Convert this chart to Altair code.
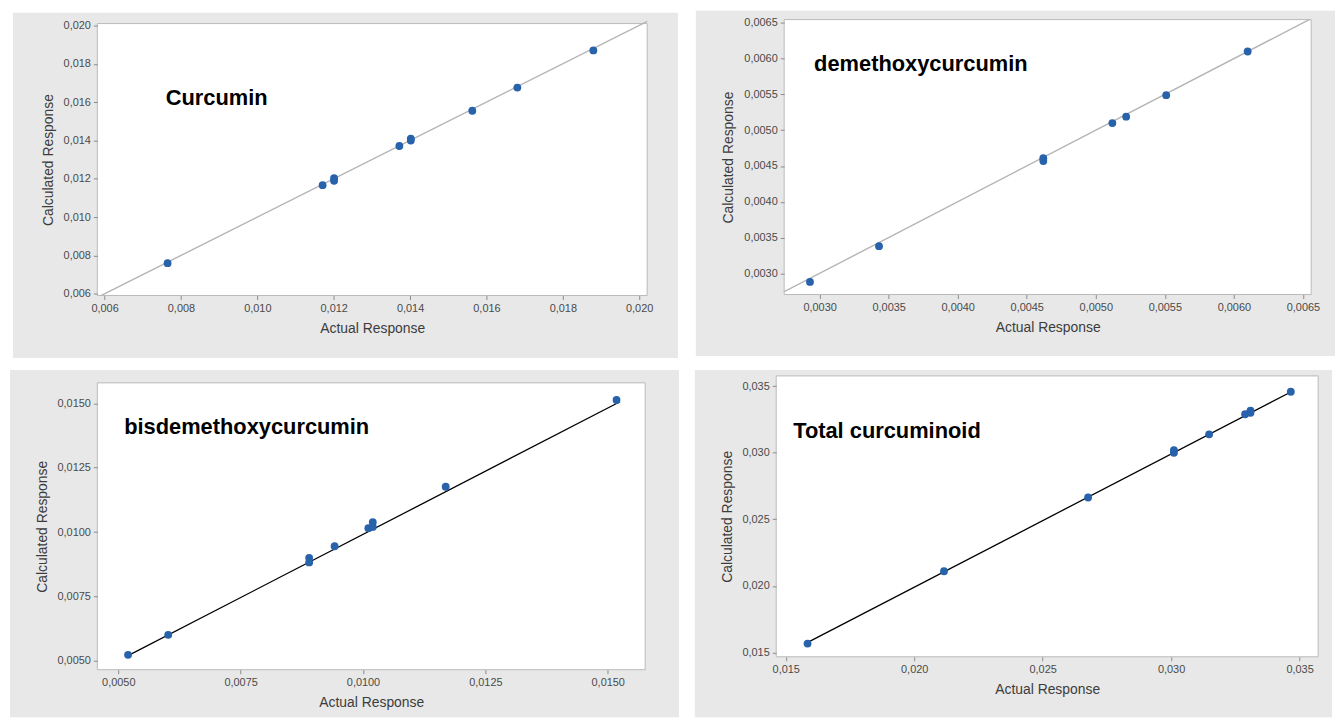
import altair as alt
import pandas as pd

# ---------------- data ----------------
cur_actual = [0.00765, 0.01171, 0.01201, 0.01201, 0.01372, 0.01402, 0.01402, 0.01563, 0.01681, 0.01880]
cur_calc   = [0.00760, 0.01167, 0.01203, 0.01190, 0.01371, 0.01410, 0.01400, 0.01555, 0.01676, 0.01870]
cur_fit_x  = [0.0058, 0.0203]
cur_fit_y  = [0.0058, 0.0203]

dmc_actual = [0.00293, 0.00343, 0.00462, 0.00462, 0.00512, 0.00522, 0.00551, 0.00610]
dmc_calc   = [0.00288, 0.00338, 0.00461, 0.00457, 0.00510, 0.00519, 0.00549, 0.00610]
dmc_fit_x  = [0.0027, 0.0066]
dmc_fit_y  = [0.0027, 0.0066]

bdmc_actual = [0.00520, 0.00602, 0.00890, 0.00890, 0.00942, 0.01011, 0.01020, 0.01020, 0.01169, 0.01518]
bdmc_calc   = [0.00523, 0.00601, 0.00900, 0.00882, 0.00945, 0.01015, 0.01038, 0.01020, 0.01176, 0.01513]
bdmc_fit_x  = [0.00520, 0.01525]
bdmc_fit_y  = [0.00520, 0.01506]

tot_actual = [0.01585, 0.02116, 0.02677, 0.03011, 0.03011, 0.03148, 0.03288, 0.03309, 0.03309, 0.03466]
tot_calc   = [0.01567, 0.02110, 0.02664, 0.02999, 0.03020, 0.03138, 0.03289, 0.03316, 0.03300, 0.03458]
tot_fit_x  = [0.0158, 0.0347]
tot_fit_y  = [0.0157, 0.0346]

labels = ["Curcumin", "demethoxycurcumin", "bisdemethoxycurcumin", "Total curcuminoid"]

GREY = "#e8e8e8"
FONT = "Liberation Sans"


def panel(xs, ys, fx, fy, line_color, label, lx, ly, xdom, ydom, xticks, yticks, dec,
          W, H, dt, L, T, R, B):
    """H = view height, dt = offset of the framed plot area below the view top."""
    pts = pd.DataFrame({"a": xs, "c": ys})
    fit = pd.DataFrame({"a": fx, "c": fy})
    lab = pd.DataFrame({"a": [lx], "c": [ly], "t": [label]})
    one = pd.DataFrame({"k": [0]})
    lexpr = "replace(format(datum.value, '.%df'), '.', ',')" % dec

    xax = alt.Axis(values=xticks, tickCount=40, labelExpr=lexpr, title="Actual Response",
                   zindex=1, labelOverlap=False, labelFlush=False)
    yax = alt.Axis(values=yticks, tickCount=40, labelExpr=lexpr, title="Calculated Response",
                   zindex=1, labelOverlap=False, labelFlush=False)
    xs_ = alt.Scale(domain=xdom, nice=False, zero=False)
    ys_ = alt.Scale(domain=ydom, range=[H, dt], nice=False, zero=False)

    bg = alt.Chart(one).mark_rect(fill=GREY).encode(
        x=alt.value(-L), x2=alt.value(W + R), y=alt.value(-T), y2=alt.value(H + B))
    plotbg = alt.Chart(one).mark_rect(fill="white", stroke="#b9b9b9", strokeWidth=1).encode(
        x=alt.value(0), x2=alt.value(W), y=alt.value(dt), y2=alt.value(H))
    line = alt.Chart(fit).mark_line(clip=True, color=line_color,
                                    strokeWidth=1.4 if line_color != "black" else 1.3).encode(
        x=alt.X("a:Q", scale=xs_, axis=xax),
        y=alt.Y("c:Q", scale=ys_, axis=yax))
    dots = alt.Chart(pts).mark_circle(size=62, color="#2762aa", opacity=1).encode(
        x="a:Q", y="c:Q")
    txt = alt.Chart(lab).mark_text(align="left", baseline="middle", fontSize=22,
                                   fontWeight="bold", font=FONT, color="black").encode(
        x="a:Q", y="c:Q", text="t:N")
    return alt.layer(bg, plotbg, line, dots, txt).properties(width=W, height=H)


p1 = panel(cur_actual, cur_calc, cur_fit_x, cur_fit_y, "#b4b4b4", labels[0], 0.0076, 0.0162,
           [0.00581, 0.02021], [0.00591, 0.0201],
           [0.006, 0.008, 0.010, 0.012, 0.014, 0.016, 0.018, 0.020],
           [0.006, 0.008, 0.010, 0.012, 0.014, 0.016, 0.018, 0.020], 3,
           554, 278, 4, 85, 7, 31, 63)
p2 = panel(dmc_actual, dmc_calc, dmc_fit_x, dmc_fit_y, "#b4b4b4", labels[1], 0.00296, 0.00592,
           [0.002743, 0.00656], [0.002704, 0.006546],
           [0.0030, 0.0035, 0.0040, 0.0045, 0.0050, 0.0055, 0.0060, 0.0065],
           [0.0030, 0.0035, 0.0040, 0.0045, 0.0050, 0.0055, 0.0060, 0.0065], 4,
           531, 277, 0, 89, 9, 24, 62)
p3 = panel(bdmc_actual, bdmc_calc, bdmc_fit_x, bdmc_fit_y, "black", labels[2], 0.00512, 0.01406,
           [0.004572, 0.015766], [0.004654, 0.015795],
           [0.0050, 0.0075, 0.0100, 0.0125, 0.0150],
           [0.0050, 0.0075, 0.0100, 0.0125, 0.0150], 4,
           552, 296, 7, 88, 6, 34, 48)
p4 = panel(tot_actual, tot_calc, tot_fit_x, tot_fit_y, "black", labels[3], 0.01529, 0.0316,
           [0.01463, 0.035723], [0.014677, 0.035769],
           [0.015, 0.020, 0.025, 0.030, 0.035],
           [0.015, 0.020, 0.025, 0.030, 0.035], 3,
           546, 283, 0, 82, 6, 14, 61)

top = alt.hconcat(p1, p2, spacing=18)
bottom = alt.hconcat(p3, p4, spacing=16)
chart = alt.vconcat(top, bottom, spacing=12).properties(
    padding={"left": 2, "top": 0, "right": 0, "bottom": 0},
    background="white",
).configure_view(stroke=None).configure_axis(
    grid=False, domain=False, tickSize=4, tickColor="#8c8c8c", labelPadding=3,
    labelFont=FONT, labelFontSize=11, labelColor="#4a4a4a",
    titleFont=FONT, titleFontSize=14, titleFontWeight="normal", titleColor="#3c3c3c",
    titlePadding=8,
)

chart.save("out.html", embed_options={"renderer": "svg", "actions": False})
